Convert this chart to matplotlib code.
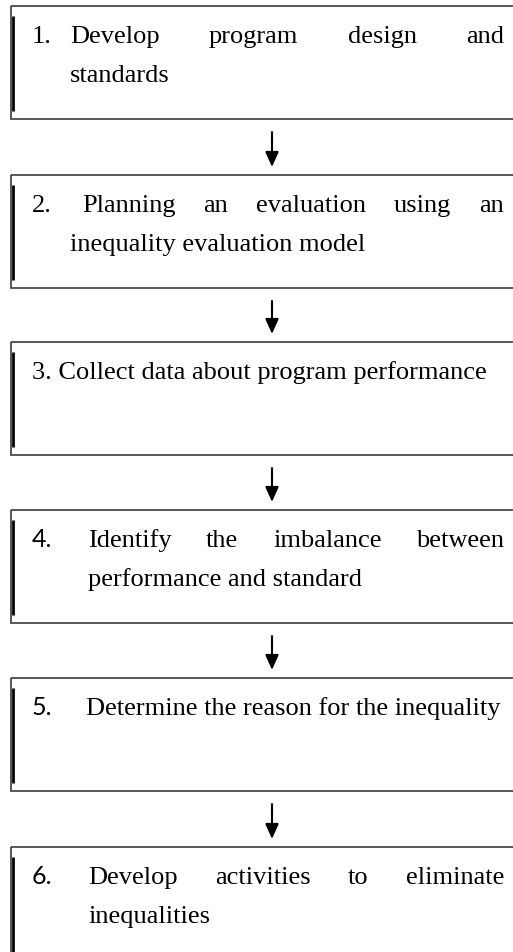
import matplotlib.pyplot as plt
from matplotlib.patches import Rectangle

# Steps of the flow chart
numbers = ["1.", "2.", "3.", "4.", "5.", "6."]
first_lines = [
    "Develop program design and",
    "Planning an evaluation using an",
    "Collect data about program performance",
    "Identify the imbalance between",
    "Determine the reason for the inequality",
    "Develop activities to eliminate",
]
second_lines = [
    "standards",
    "inequality evaluation model",
    "",
    "performance and standard",
    "",
    "inequalities",
]
# numbers 4-6 were typed in a different (sans) font in the source
number_sans = [False, False, False, True, True, True]

# layout (pixel coordinates)
W, H = 513, 953
box_tops = [7, 176, 343, 511, 679, 848]
box_h = 113
box_left = 11
box_right = 540
num_x = 32
text_x = [70, 82, None, 88, 86, 88]
second_x = [70, 70, None, 88, None, 88]
right_x = 504
arrow_x = 272
fs = 19

serif = "Liberation Serif"
sans = "Lato"

fig = plt.figure(figsize=(W / 100, H / 100), dpi=100)
ax = fig.add_axes([0, 0, 1, 1])
ax.set_xlim(0, W)
ax.set_ylim(H, 0)
ax.axis("off")
renderer = fig.canvas.get_renderer()


def text_width(s):
    t = ax.text(0, 0, s, fontsize=fs, family=serif)
    bb = t.get_window_extent(renderer=renderer)
    t.remove()
    return bb.width


def justified(words, x0, x1, y):
    widths = [text_width(w) for w in words]
    gap = (x1 - x0 - sum(widths)) / max(len(words) - 1, 1)
    x = x0
    for w, wd in zip(words, widths):
        ax.text(x, y, w, fontsize=fs, family=serif, va="baseline", ha="left")
        x += wd + gap


for i, top in enumerate(box_tops):
    bottom = top + box_h
    ax.add_patch(Rectangle((box_left, top), box_right - box_left, box_h,
                           fill=False, edgecolor="#4a4a4a", linewidth=1.3))
    # thick dark bar on the left side
    ax.plot([box_left + 2, box_left + 2], [top + 10, bottom - 8],
            color="black", linewidth=2.0, solid_capstyle="butt")

    y1 = top + 36
    y2 = top + 75
    if text_x[i] is None:
        ax.text(num_x, y1, numbers[i] + " " + first_lines[i], fontsize=fs,
                family=serif, va="baseline", ha="left")
    else:
        if number_sans[i]:
            ax.text(num_x, y1, numbers[i], fontsize=fs - 1, family=sans,
                    va="baseline", ha="left")
        else:
            ax.text(num_x, y1, numbers[i], fontsize=fs, family=serif,
                    va="baseline", ha="left")
        if second_lines[i]:
            # a wrapped paragraph: first line is justified
            justified(first_lines[i].split(), text_x[i], right_x, y1)
            ax.text(second_x[i], y2, second_lines[i], fontsize=fs,
                    family=serif, va="baseline", ha="left")
        else:
            ax.text(text_x[i], y1, first_lines[i], fontsize=fs,
                    family=serif, va="baseline", ha="left")

    if i < len(box_tops) - 1:
        ax.annotate("", xy=(arrow_x, box_tops[i + 1] - 8),
                    xytext=(arrow_x, bottom + 13),
                    arrowprops=dict(arrowstyle="-|>,head_length=0.9,head_width=0.4",
                                    color="black", linewidth=1.5,
                                    shrinkA=0, shrinkB=0))

fig.savefig("out.png", dpi=100, facecolor="white")
